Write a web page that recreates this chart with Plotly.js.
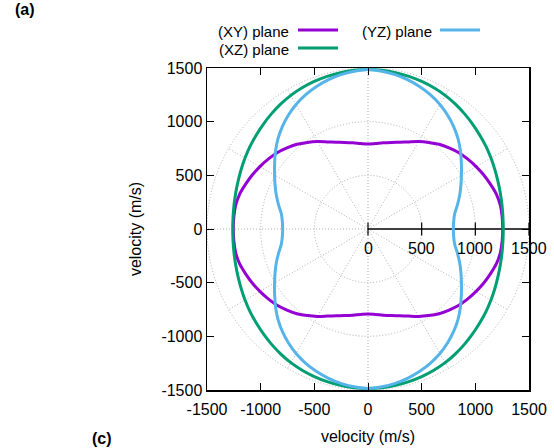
<!DOCTYPE html>
<html>
<head>
<meta charset="utf-8">
<script src="https://cdn.plot.ly/plotly-3.0.1.min.js"></script>
<style>html,body{margin:0;padding:0;background:#fff;}#chart{width:554px;height:448px;}</style>
</head>
<body>
<div id="chart"></div>
<script>
// Angle (degrees) and velocity magnitude (m/s)
const theta = [0,5,10,15,20,25,30,35,40,45,50,55,60,65,70,75,80,85,90,
  95,100,105,110,115,120,125,130,135,140,145,150,155,160,165,170,175,180,
  185,190,195,200,205,210,215,220,225,230,235,240,245,250,255,260,265,270,
  275,280,285,290,295,300,305,310,315,320,325,330,335,340,345,350,355,360];
const rXY = [1255,1255,1253,1240,1215,1190,1163,1135,1105,1068,1030,985,940,895,860,835,815,800,792,
  800,815,835,860,895,940,985,1030,1068,1105,1135,1163,1190,1215,1240,1253,1255,1255,
  1255,1253,1240,1215,1190,1163,1135,1105,1068,1030,985,940,895,860,835,815,800,792,
  800,815,835,860,895,940,985,1030,1068,1105,1135,1163,1190,1215,1240,1253,1255,1255];
const rXZ = [1260,1262,1268,1277,1289,1305,1323,1342,1360,1380,1400,1420,1438,1452,1463,1472,1479,1484,1486,
  1484,1479,1472,1463,1452,1438,1420,1400,1380,1360,1342,1323,1305,1289,1277,1268,1262,1260,
  1262,1268,1277,1289,1305,1323,1342,1360,1380,1400,1420,1438,1452,1463,1472,1479,1484,1486,
  1484,1479,1472,1463,1452,1438,1420,1400,1380,1360,1342,1323,1305,1289,1277,1268,1262,1260];
const rYZ = [795,801,820,862,908,955,1005,1062,1125,1187,1243,1294,1340,1379,1411,1438,1460,1476,1485,
  1476,1460,1438,1411,1379,1340,1294,1243,1187,1125,1062,1005,955,908,862,820,801,795,
  801,820,862,908,955,1005,1062,1125,1187,1243,1294,1340,1379,1411,1438,1460,1476,1485,
  1476,1460,1438,1411,1379,1340,1294,1243,1187,1125,1062,1005,955,908,862,820,801,795];
const seriesNames = ['(XY) plane','(XZ) plane','(YZ) plane'];
const seriesColors = ['#9400D3','#009E73','#56B4E9'];
const axisTicks = [-1500,-1000,-500,0,500,1000,1500];
const rTicks = [0,500,1000,1500];
const gridRadii = [500,1000,1500];
const gridAngles = [30,60,90,120,150,180,210,240,270,300,330];

function toXY(th, r){
  return {
    x: r.map((v,i)=>v*Math.cos(th[i]*Math.PI/180)),
    y: r.map((v,i)=>v*Math.sin(th[i]*Math.PI/180))
  };
}
const rs = [rXY, rXZ, rYZ];
const traces = rs.map((r,k)=>{
  const p = toXY(theta, r);
  return {x:p.x, y:p.y, type:'scatter', mode:'lines', name:seriesNames[k],
    line:{color:seriesColors[k], width:3, shape:'spline', smoothing:0.8}, showlegend:false, hoverinfo:'skip'};
});

const shapes = [];
const gridStyle = {color:'#b0b0b0', width:1, dash:'1px,2px'};
gridRadii.forEach(R=>{
  shapes.push({type:'circle', xref:'x', yref:'y', x0:-R, x1:R, y0:-R, y1:R, line:gridStyle, layer:'below'});
});
const Rmax = gridRadii[gridRadii.length-1];
gridAngles.forEach(a=>{
  shapes.push({type:'line', xref:'x', yref:'y', x0:0, y0:0,
    x1:Rmax*Math.cos(a*Math.PI/180), y1:Rmax*Math.sin(a*Math.PI/180), line:gridStyle, layer:'below'});
});
// r axis
shapes.push({type:'line', xref:'x', yref:'y', x0:0, y0:0, x1:Rmax, y1:0, line:{color:'#000', width:1.5}, layer:'below'});
rTicks.forEach(t=>{
  shapes.push({type:'line', xref:'x', yref:'y', x0:t, x1:t, y0:-60, y1:60, line:{color:'#000', width:1.2}, layer:'below'});
});

const font = {family:'Liberation Sans, Arial, sans-serif', size:16, color:'#000'};
const annotations = rTicks.map(t=>({xref:'x', yref:'y', x:t, y:0, yshift:-19, text:String(t),
  showarrow:false, font:font, xanchor:'center', yanchor:'middle'}));

// manual gnuplot-style legend
const legendRows = [
  {name:seriesNames[0], color:seriesColors[0], tx:291, lx0:298, lx1:338, y:30},
  {name:seriesNames[1], color:seriesColors[1], tx:291, lx0:298, lx1:338, y:48},
  {name:seriesNames[2], color:seriesColors[2], tx:434, lx0:440, lx1:480, y:30}
];
const L=207, T=68, W=322, H=322;
const px = v=>(v-L)/W, py = v=>(T+H-v)/H;
legendRows.forEach(r=>{
  annotations.push({xref:'paper', yref:'paper', x:px(r.tx), y:py(r.y+1), text:r.name, showarrow:false,
    xanchor:'right', yanchor:'middle', font:{family:font.family, size:15, color:'#000'}});
  shapes.push({type:'line', xref:'paper', yref:'paper', x0:px(r.lx0), x1:px(r.lx1), y0:py(r.y), y1:py(r.y),
    line:{color:r.color, width:3}});
});
annotations.push({xref:'paper', yref:'paper', x:px(24.5), y:py(9), text:'<b>(a)</b>', showarrow:false,
  xanchor:'center', yanchor:'middle', font:{family:font.family, size:16, color:'#000'}});
annotations.push({xref:'paper', yref:'paper', x:px(101.5), y:py(438), text:'<b>(c)</b>', showarrow:false,
  xanchor:'center', yanchor:'middle', font:{family:font.family, size:16, color:'#000'}});

const axisBase = {range:[-1500,1500], tickvals:axisTicks, ticktext:axisTicks.map(String), ticks:'inside', ticklen:7,
  tickcolor:'#000', tickwidth:1, showline:true, linecolor:'#000', linewidth:1.5, mirror:'ticks',
  showgrid:false, zeroline:false, tickfont:font, fixedrange:true};

const layout = {
  width:554, height:448,
  margin:{l:L, r:554-L-W, t:T, b:448-T-H},
  paper_bgcolor:'#fff', plot_bgcolor:'#fff',
  font:font,
  showlegend:false,
  xaxis:Object.assign({}, axisBase, {ticklabelstandoff:4, title:{text:'velocity (m/s)', font:font, standoff:14}}),
  yaxis:Object.assign({}, axisBase, {title:{text:'velocity (m/s)', font:font, standoff:16}}),
  shapes:shapes,
  annotations:annotations
};
Plotly.newPlot('chart', traces, layout, {displayModeBar:false, staticPlot:true});
</script>
</body>
</html>
